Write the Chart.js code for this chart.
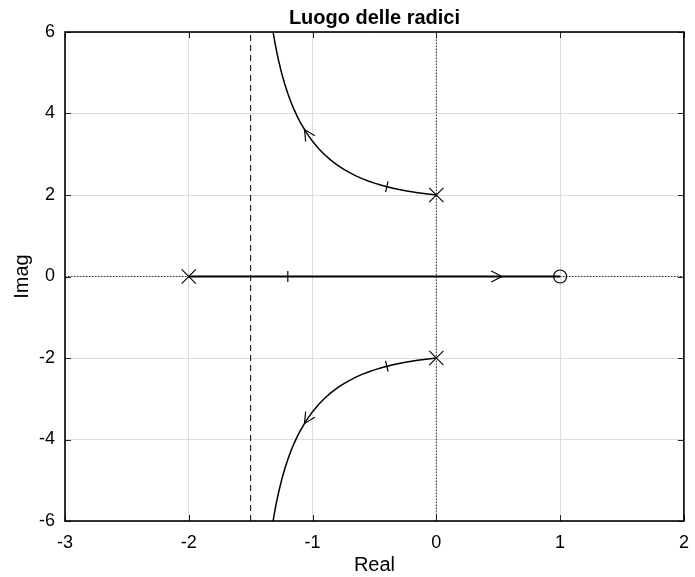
<!DOCTYPE html>
<html>
<head>
<meta charset="utf-8">
<script src="https://cdn.jsdelivr.net/npm/chart.js@4.4.1/dist/chart.umd.min.js"></script>
<style>
html,body{margin:0;padding:0;background:#fff;}
#wrap{width:695px;height:577px;}
</style>
</head>
<body>
<div id="wrap"><canvas id="c" width="695" height="577"></canvas></div>
<script>
// ---- data ----
const titleText = 'Luogo delle radici';
const xTitle = 'Real';
const yTitle = 'Imag';
const xMin = -3, xMax = 2, xStep = 1;
const yMin = -6, yMax = 6, yStep = 2;

const upperRe = [0, -0.05, -0.1, -0.15, -0.2, -0.25, -0.3, -0.35, -0.4, -0.45, -0.5, -0.55, -0.6, -0.65, -0.7, -0.75, -0.8, -0.85, -0.9, -0.95, -1.0, -1.05, -1.1, -1.125, -1.15, -1.175, -1.2, -1.225, -1.25, -1.275, -1.29, -1.3, -1.31, -1.32, -1.34];
const upperIm = [2, 2.017, 2.036, 2.058, 2.081, 2.107, 2.135, 2.168, 2.204, 2.245, 2.291, 2.344, 2.403, 2.470, 2.547, 2.634, 2.734, 2.849, 2.982, 3.136, 3.317, 3.530, 3.787, 3.935, 4.100, 4.283, 4.490, 4.725, 4.994, 5.306, 5.520, 5.675, 5.843, 6.024, 6.434];
const lowerRe = [0, -0.05, -0.1, -0.15, -0.2, -0.25, -0.3, -0.35, -0.4, -0.45, -0.5, -0.55, -0.6, -0.65, -0.7, -0.75, -0.8, -0.85, -0.9, -0.95, -1.0, -1.05, -1.1, -1.125, -1.15, -1.175, -1.2, -1.225, -1.25, -1.275, -1.29, -1.3, -1.31, -1.32, -1.34];
const lowerIm = [-2, -2.017, -2.036, -2.058, -2.081, -2.107, -2.135, -2.168, -2.204, -2.245, -2.291, -2.344, -2.403, -2.470, -2.547, -2.634, -2.734, -2.849, -2.982, -3.136, -3.317, -3.530, -3.787, -3.935, -4.100, -4.283, -4.490, -4.725, -4.994, -5.306, -5.520, -5.675, -5.843, -6.024, -6.434];
const realRe = [-2, 1];
const realIm = [0, 0];

const poleRe = [0, 0, -2];
const poleIm = [2, -2, 0];
const zeroRe = [1];
const zeroIm = [0];

const asymptoteRe = -1.5;

// gain tick marks (point on the locus, and a nearby point giving the local direction)
const gainRe = [-0.4, -0.4, -1.2];
const gainIm = [2.204, -2.204, 0];
const gainBackRe = [-0.35, -0.35, -1.1];
const gainBackIm = [2.168, -2.168, 0];

// direction arrows (tip, and a point behind the tip along the branch)
const arrowRe = [-1.065, -1.065, 0.53];
const arrowIm = [3.605, -3.605, 0];
const arrowBackRe = [-1.04, -1.04, 0.40];
const arrowBackIm = [3.485, -3.485, 0];

// ---- chart ----
const FONT = '"Liberation Sans", Arial, Helvetica, sans-serif';
const pts = (xs, ys) => xs.map((v, i) => ({x: v, y: ys[i]}));

const decor = {
  id: 'decor',
  afterDatasetsDraw(chart) {
    const {ctx, chartArea: a, scales: {x, y}} = chart;
    ctx.save();
    ctx.strokeStyle = '#000';
    ctx.lineCap = 'butt';
    // gain ticks
    ctx.lineWidth = 1.2;
    for (let i = 0; i < gainRe.length; i++) {
      const px = x.getPixelForValue(gainRe[i]), py = y.getPixelForValue(gainIm[i]);
      const bx = x.getPixelForValue(gainBackRe[i]), by = y.getPixelForValue(gainBackIm[i]);
      let dx = px - bx, dy = py - by; const L = Math.hypot(dx, dy); dx /= L; dy /= L;
      const nx = -dy, ny = dx;
      ctx.beginPath();
      ctx.moveTo(px + nx * 5.5, py + ny * 5.5);
      ctx.lineTo(px - nx * 5.5, py - ny * 5.5);
      ctx.stroke();
    }
    // arrows
    ctx.lineWidth = 1.2;
    const th = 27 * Math.PI / 180, len = 12;
    for (let i = 0; i < arrowRe.length; i++) {
      const px = x.getPixelForValue(arrowRe[i]), py = y.getPixelForValue(arrowIm[i]);
      const bx = x.getPixelForValue(arrowBackRe[i]), by = y.getPixelForValue(arrowBackIm[i]);
      let dx = bx - px, dy = by - py; const L = Math.hypot(dx, dy); dx /= L; dy /= L;
      const c = Math.cos(th), s = Math.sin(th);
      const a1x = dx * c - dy * s, a1y = dx * s + dy * c;
      const a2x = dx * c + dy * s, a2y = -dx * s + dy * c;
      ctx.beginPath();
      ctx.moveTo(px + a1x * len, py + a1y * len);
      ctx.lineTo(px, py);
      ctx.lineTo(px + a2x * len, py + a2y * len);
      ctx.stroke();
    }
    // inward tick marks
    ctx.lineWidth = 1;
    ctx.strokeStyle = '#222';
    x.ticks.forEach(t => {
      const px = Math.round(x.getPixelForValue(t.value)) + 0.5;
      ctx.beginPath();
      ctx.moveTo(px, a.bottom); ctx.lineTo(px, a.bottom - 6);
      ctx.moveTo(px, a.top); ctx.lineTo(px, a.top + 6);
      ctx.stroke();
    });
    y.ticks.forEach(t => {
      const py = Math.round(y.getPixelForValue(t.value)) + 0.5;
      ctx.beginPath();
      ctx.moveTo(a.left, py); ctx.lineTo(a.left + 6, py);
      ctx.moveTo(a.right, py); ctx.lineTo(a.right - 6, py);
      ctx.stroke();
    });
    // frame
    ctx.strokeStyle = '#000';
    ctx.lineWidth = 1.6;
    ctx.strokeRect(a.left, a.top, a.right - a.left, a.bottom - a.top);
    ctx.restore();
  }
};

const tickFont = {family: FONT, size: 18};

new Chart(document.getElementById('c'), {
  type: 'scatter',
  data: {
    datasets: [
      {data: pts(poleRe, poleIm), pointStyle: 'crossRot', pointRadius: 10, pointBorderWidth: 1.1, borderColor: '#000', backgroundColor: '#000', showLine: false, order: 0},
      {data: pts(zeroRe, zeroIm), pointStyle: 'circle', pointRadius: 6.5, pointBorderWidth: 1.2, borderColor: '#000', backgroundColor: 'rgba(0,0,0,0)', showLine: false, order: 0},
      {data: pts(upperRe, upperIm), showLine: true, borderColor: '#000', borderWidth: 1.5, pointRadius: 0, tension: 0, order: 1},
      {data: pts(lowerRe, lowerIm), showLine: true, borderColor: '#000', borderWidth: 1.5, pointRadius: 0, tension: 0, order: 1},
      {data: pts(realRe, realIm), showLine: true, borderColor: '#000', borderWidth: 1.8, pointRadius: 0, order: 1},
      {data: [{x: asymptoteRe, y: yMin}, {x: asymptoteRe, y: yMax}], showLine: true, borderColor: '#000', borderWidth: 1, borderDash: [6, 4], pointRadius: 0, order: 5},
      {data: [{x: 0, y: yMin}, {x: 0, y: yMax}], showLine: true, borderColor: '#333', borderWidth: 1, borderDash: [1.5, 1.5], pointRadius: 0, order: 6},
      {data: [{x: xMin, y: 0}, {x: xMax, y: 0}], showLine: true, borderColor: '#333', borderWidth: 1, borderDash: [1.5, 1.5], pointRadius: 0, order: 6}
    ]
  },
  options: {
    responsive: false,
    animation: false,
    devicePixelRatio: 1,
    events: [],
    layout: {padding: {left: 0, right: 10, top: 0, bottom: 0}},
    plugins: {
      legend: {display: false},
      tooltip: {enabled: false},
      title: {
        display: true, text: titleText, fullSize: false, color: '#000',
        font: {family: FONT, size: 20, weight: 'bold'},
        padding: {top: 6, bottom: 2}
      }
    },
    scales: {
      x: {
        type: 'linear', min: xMin, max: xMax,
        ticks: {stepSize: xStep, color: '#000', font: tickFont, padding: 11},
        grid: {color: '#dcdcdc', lineWidth: 1, drawTicks: false},
        border: {display: false},
        title: {display: true, text: xTitle, color: '#000', font: {family: FONT, size: 20}, padding: {top: 0, bottom: 0}},
        afterFit: s => { s.height = 56; s.paddingRight = 0; s.paddingLeft = 0; }
      },
      y: {
        type: 'linear', min: yMin, max: yMax,
        ticks: {stepSize: yStep, color: '#000', font: tickFont, padding: 10},
        grid: {color: '#dcdcdc', lineWidth: 1, drawTicks: false},
        border: {display: false},
        title: {display: true, text: yTitle, color: '#000', font: {family: FONT, size: 20}, padding: {top: 10, bottom: 0}},
        afterFit: s => { s.width = 65; s.paddingTop = 0; s.paddingBottom = 0; }
      }
    }
  },
  plugins: [decor]
});
</script>
</body>
</html>
